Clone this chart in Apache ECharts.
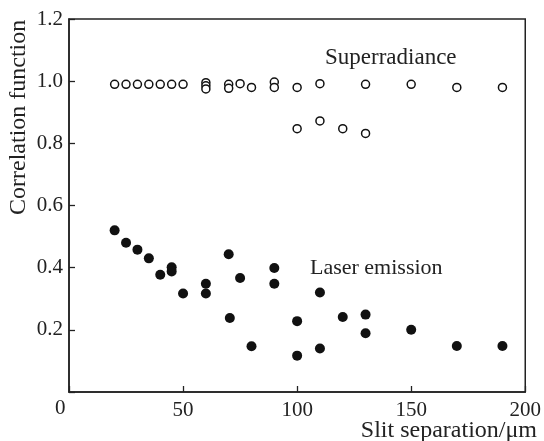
<!DOCTYPE html>
<html>
<head>
<meta charset="utf-8">
<script src="https://cdn.jsdelivr.net/npm/echarts@6/dist/echarts.min.js"></script>
<style>
html,body{margin:0;padding:0;background:#fff;}
#chart{width:544px;height:441px;}
</style>
</head>
<body>
<div id="chart"></div>
<script>
// superradiance (open circles)
var superX = [20,25,30,35,40,45,50,60,60,60,70,70,75,80,90,90,100,100,110,110,120,130,130,150,170,190];
var superY = [0.99,0.99,0.99,0.99,0.99,0.99,0.99,0.995,0.985,0.975,0.99,0.977,0.992,0.98,0.997,0.98,0.98,0.847,0.992,0.872,0.847,0.99,0.832,0.99,0.98,0.98];
// laser emission (filled dots)
var laserX = [20,25,30,35,40,45,45,50,60,60,70,70.5,75,80,90,90,100,100,110,110,120,130,130,150,170,190];
var laserY = [0.52,0.48,0.458,0.43,0.377,0.401,0.388,0.317,0.348,0.317,0.443,0.238,0.367,0.147,0.399,0.348,0.228,0.117,0.32,0.14,0.241,0.249,0.189,0.2,0.148,0.148];
var xTicks = [0,50,100,150,200];
var yTicks = [0,0.2,0.4,0.6,0.8,1.0,1.2];

function pairs(xs,ys){
	var d=[];
	for(var i=0;i<xs.length;i++){ d.push([xs[i],ys[i]]); }
	return d;
}

var font='"Liberation Serif","DejaVu Serif",serif';
var ink='#222';

var myChart = echarts.init(document.getElementById('chart'));
var option = {
	animation:false,
	grid:{left:69,top:19,right:17,bottom:49,show:true,borderColor:ink,borderWidth:1.5,backgroundColor:'transparent'},
	xAxis:{
		type:'value',min:xTicks[0],max:xTicks[xTicks.length-1],interval:50,
		splitLine:{show:false},
		axisLine:{lineStyle:{color:ink,width:1.5}},
		axisTick:{inside:true,length:6,lineStyle:{color:ink,width:1.3}},
		axisLabel:{color:ink,fontFamily:font,fontSize:21,margin:8,
			formatter:function(v){return v===0?'':String(v);}}
	},
	yAxis:{
		type:'value',min:yTicks[0],max:yTicks[yTicks.length-1],interval:0.2,
		splitLine:{show:false},
		axisLine:{lineStyle:{color:ink,width:1.5}},
		axisTick:{inside:true,length:6,lineStyle:{color:ink,width:1.3}},
		axisLabel:{color:ink,fontFamily:font,fontSize:21,margin:6,
			formatter:function(v){return v===0?'':v.toFixed(1);}}
	},
	graphic:[
		{type:'text',left:55,top:398,style:{text:'0',font:'21px '+font,fill:ink}},
		{type:'text',right:7,top:419,style:{text:'Slit separation/μm',font:'24px '+font,fill:ink}},
		{type:'text',x:7,y:215,rotation:Math.PI/2,style:{text:'Correlation function',font:'24px '+font,fill:ink}},
		{type:'text',left:325,top:46,style:{text:'Superradiance',font:'23px '+font,fill:ink}},
		{type:'text',left:310,top:257,style:{text:'Laser emission',font:'22px '+font,fill:ink}}
	],
	series:[
		{
			name:'Superradiance',type:'scatter',symbol:'circle',symbolSize:8,
			itemStyle:{color:'#fff',borderColor:'#111',borderWidth:1.5,opacity:1},
			data:pairs(superX,superY)
		},
		{
			name:'Laser emission',type:'scatter',symbol:'circle',symbolSize:10,
			itemStyle:{color:'#111',opacity:1},
			data:pairs(laserX,laserY)
		}
	]
};
myChart.setOption(option);
</script>
</body>
</html>
